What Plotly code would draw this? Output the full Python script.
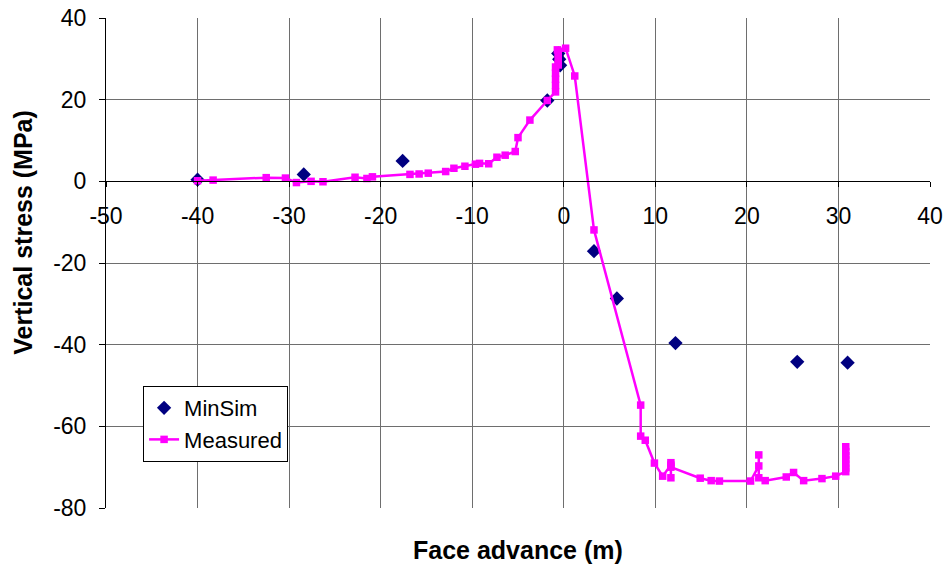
import plotly.graph_objects as go

# MinSim simulation results: face advance (m) vs vertical stress (MPa)
minsim_x = [-40.0, -28.4, -17.6, -1.8, -0.6, -0.5, -0.4, 3.3, 5.8, 12.2, 25.5, 31.0]
minsim_y = [0.4, 1.7, 5.0, 19.8, 31.3, 29.9, 28.4, -17.1, -28.7, -39.6, -44.2, -44.4]

# Measured vertical stress along the face advance
measured_x = [-40.0, -38.3, -32.5, -30.4, -29.2, -27.6, -26.3, -22.8, -21.5, -20.9,
              -16.8, -15.8, -14.8, -12.9, -12.0, -10.8, -9.65, -9.2, -8.2, -7.3,
              -6.4, -5.3, -5.0, -3.7, -1.8,
              -0.9, -0.9, -0.9, -0.9, -0.9, -0.6, -0.6, -0.6, -0.6, -0.6, -0.7,
              0.2, 1.2, 3.3, 8.4, 8.4, 8.9, 9.9, 10.8, 11.7, 11.7, 11.7, 11.7,
              14.9, 16.1, 17.0, 20.4, 21.3, 21.3, 21.3, 22.0, 24.3, 25.1, 26.2,
              28.2, 29.7,
              30.8, 30.8, 30.8, 30.8, 30.8, 30.8, 30.8]
measured_y = [0.15, 0.3, 0.9, 0.8, -0.3, 0.0, -0.1, 1.0, 0.7, 1.1,
              1.7, 1.8, 2.0, 2.4, 3.2, 3.7, 4.2, 4.4, 4.3, 5.9,
              6.4, 7.3, 10.7, 15.0, 19.8,
              21.9, 23.5, 25.0, 26.5, 28.0, 29.0, 30.0, 31.0, 31.8, 28.5, 32.2,
              32.6, 25.8, -11.9, -54.8, -62.4, -63.4, -69.0, -72.2, -69.5, -72.6, -68.9, -70.0,
              -72.7, -73.3, -73.4, -73.4, -69.7, -67.0, -72.6, -73.3, -72.4, -71.3, -73.3,
              -72.8, -72.2,
              -71.1, -70.2, -69.2, -68.2, -67.2, -66.2, -65.0]

x_ticks = [-50, -40, -30, -20, -10, 0, 10, 20, 30, 40]
x_tick_labels = ["-50", "-40", "-30", "-20", "-10", "0", "10", "20", "30", "40"]
y_ticks = [-80, -60, -40, -20, 0, 20, 40]
y_tick_labels = ["-80", "-60", "-40", "-20", "0", "20", "40"]

FONT = "Liberation Sans, Arial, sans-serif"
GRID = "#6e6e6e"

fig = go.Figure()

fig.add_trace(go.Scatter(
    x=minsim_x, y=minsim_y, name="MinSim", mode="markers",
    marker=dict(symbol="diamond", size=11, color="#000080",
                line=dict(width=0)),
))

fig.add_trace(go.Scatter(
    x=measured_x, y=measured_y, name="Measured", mode="lines+markers",
    line=dict(color="#ff00ff", width=2.5),
    marker=dict(symbol="square", size=7.5, color="#ff00ff", line=dict(width=0)),
))

# The x axis crosses the vertical axis at y = 0
zero_pos = (0 - y_ticks[0]) / (y_ticks[-1] - y_ticks[0])

fig.update_layout(
    width=946, height=567,
    margin=dict(l=106, r=16, t=18, b=59, autoexpand=False),
    paper_bgcolor="white", plot_bgcolor="white",
    font=dict(family=FONT, size=23, color="black"),
    showlegend=True,
    legend=dict(
        x=0.045, y=0.249, xanchor="left", yanchor="top",
        bgcolor="white", bordercolor="black", borderwidth=1,
        font=dict(family=FONT, size=22, color="black"),
        tracegroupgap=0, itemwidth=30,
    ),
    xaxis=dict(
        range=[x_ticks[0], x_ticks[-1]], tickvals=x_ticks, ticktext=x_tick_labels,
        anchor="free", position=zero_pos, automargin=False,
        showline=True, linecolor="black", linewidth=1,
        ticks="outside", ticklen=5, tickcolor="black",
        ticklabelstandoff=9,
        showgrid=True, gridcolor=GRID, gridwidth=1,
        zeroline=False,
        tickfont=dict(family=FONT, size=23, color="black"),
    ),
    yaxis=dict(
        range=[y_ticks[0], y_ticks[-1]], tickvals=y_ticks, ticktext=y_tick_labels,
        automargin=False,
        showline=True, linecolor="black", linewidth=1,
        ticks="outside", ticklen=6, tickcolor="black",
        ticklabelstandoff=8,
        showgrid=True, gridcolor=GRID, gridwidth=1,
        zeroline=False,
        tickfont=dict(family=FONT, size=23, color="black"),
    ),
    annotations=[
        dict(text="<b>Face advance (m)</b>", xref="paper", yref="paper",
             x=0.5, y=-0.085, xanchor="center", yanchor="middle",
             showarrow=False, font=dict(family=FONT, size=25, color="black")),
        dict(text="<b>Vertical stress (MPa)</b>", xref="paper", yref="paper",
             x=-0.1, y=0.563, xanchor="center", yanchor="middle", textangle=-90,
             showarrow=False, font=dict(family=FONT, size=25, color="black")),
    ],
)

fig.write_html("out.html")
